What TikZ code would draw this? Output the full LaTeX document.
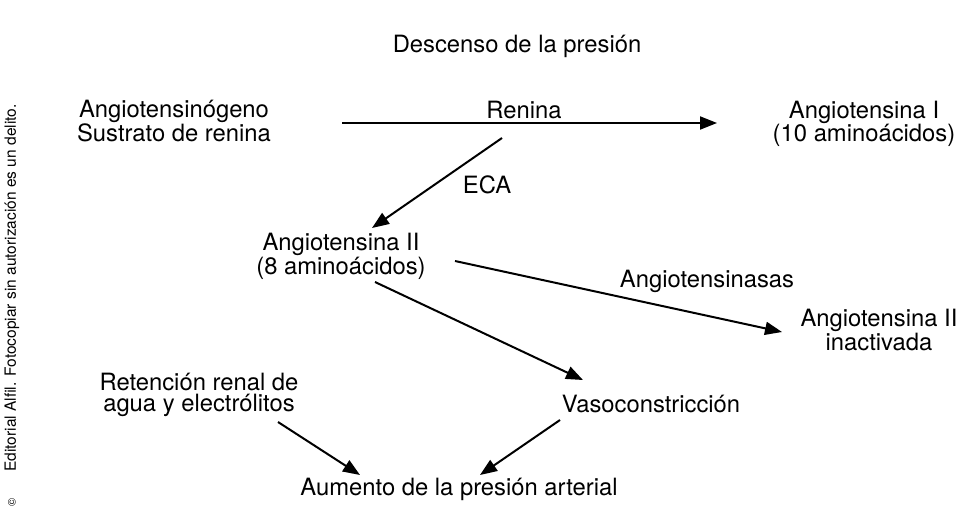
\documentclass[tikz,border=0pt]{standalone}
\usepackage{fontspec}
\setmainfont{TeX Gyre Heros}
\usetikzlibrary{arrows.meta}
\tikzset{
	texto/.style={inner sep=0pt, align=center, font=\fontsize{23.8}{21.5}\selectfont},
	nota/.style={inner sep=0pt, rotate=90, font=\fontsize{15.5}{18}\selectfont},
	flecha/.style={line width=2pt, -{Triangle[length=17pt,width=13pt]}}
}

\begin{document}
\begin{tikzpicture}[x=1pt,y=-1pt]
		\useasboundingbox (0,0) rectangle (958,514);

		\node[texto] (descenso) at (517,46.5) {Descenso de la presión};
		\node[texto] (agt) at (174,121.5) {Angiotensinógeno\\Sustrato de renina};
		\node[texto] (renina) at (524,110) {Renina};
		\node[texto] (ang1) at (864,124) {Angiotensina I\\(10 aminoácidos)};
		\node[texto] (eca) at (487,185) {ECA};
		\node[texto] (ang2) at (341,256.5) {Angiotensina II\\(8 aminoácidos)};
		\node[texto] (angasas) at (707,281) {Angiotensinasas};
		\node[texto] (ang2i) at (879,330) {Angiotensina II\\inactivada};
		\node[texto] (reten) at (199,395) {Retención renal de\\agua y electrólitos};
		\node[texto] (vaso) at (651,404) {Vasoconstricción};
		\node[texto] (aumento) at (459,489) {Aumento de la presión arterial};

		\node[nota] (aviso) at (12,288) {Editorial Alfil. Fotocopiar sin autorización es un delito.};
		\node[nota, font=\fontsize{11}{13}\selectfont] (copia) at (12,502) {©};

		\draw[flecha] ([shift={(168,1.5)}]agt.center) to ([shift={(-147,-1)}]ang1.center);
		\draw[flecha] ([shift={(-22,28)}]renina.center) to ([shift={(31,-28.5)}]ang2.center);
		\draw[flecha] ([shift={(114,4.5)}]ang2.center) to ([shift={(-97,2)}]ang2i.center);
		\draw[flecha] ([shift={(34,25.5)}]ang2.center) to ([shift={(-68,-24)}]vaso.center);
		\draw[flecha] ([shift={(79,27)}]reten.center) to ([shift={(-99,-14)}]aumento.center);
		\draw[flecha] ([shift={(-91,16)}]vaso.center) to ([shift={(21,-14)}]aumento.center);
	\end{tikzpicture}
\end{document}
